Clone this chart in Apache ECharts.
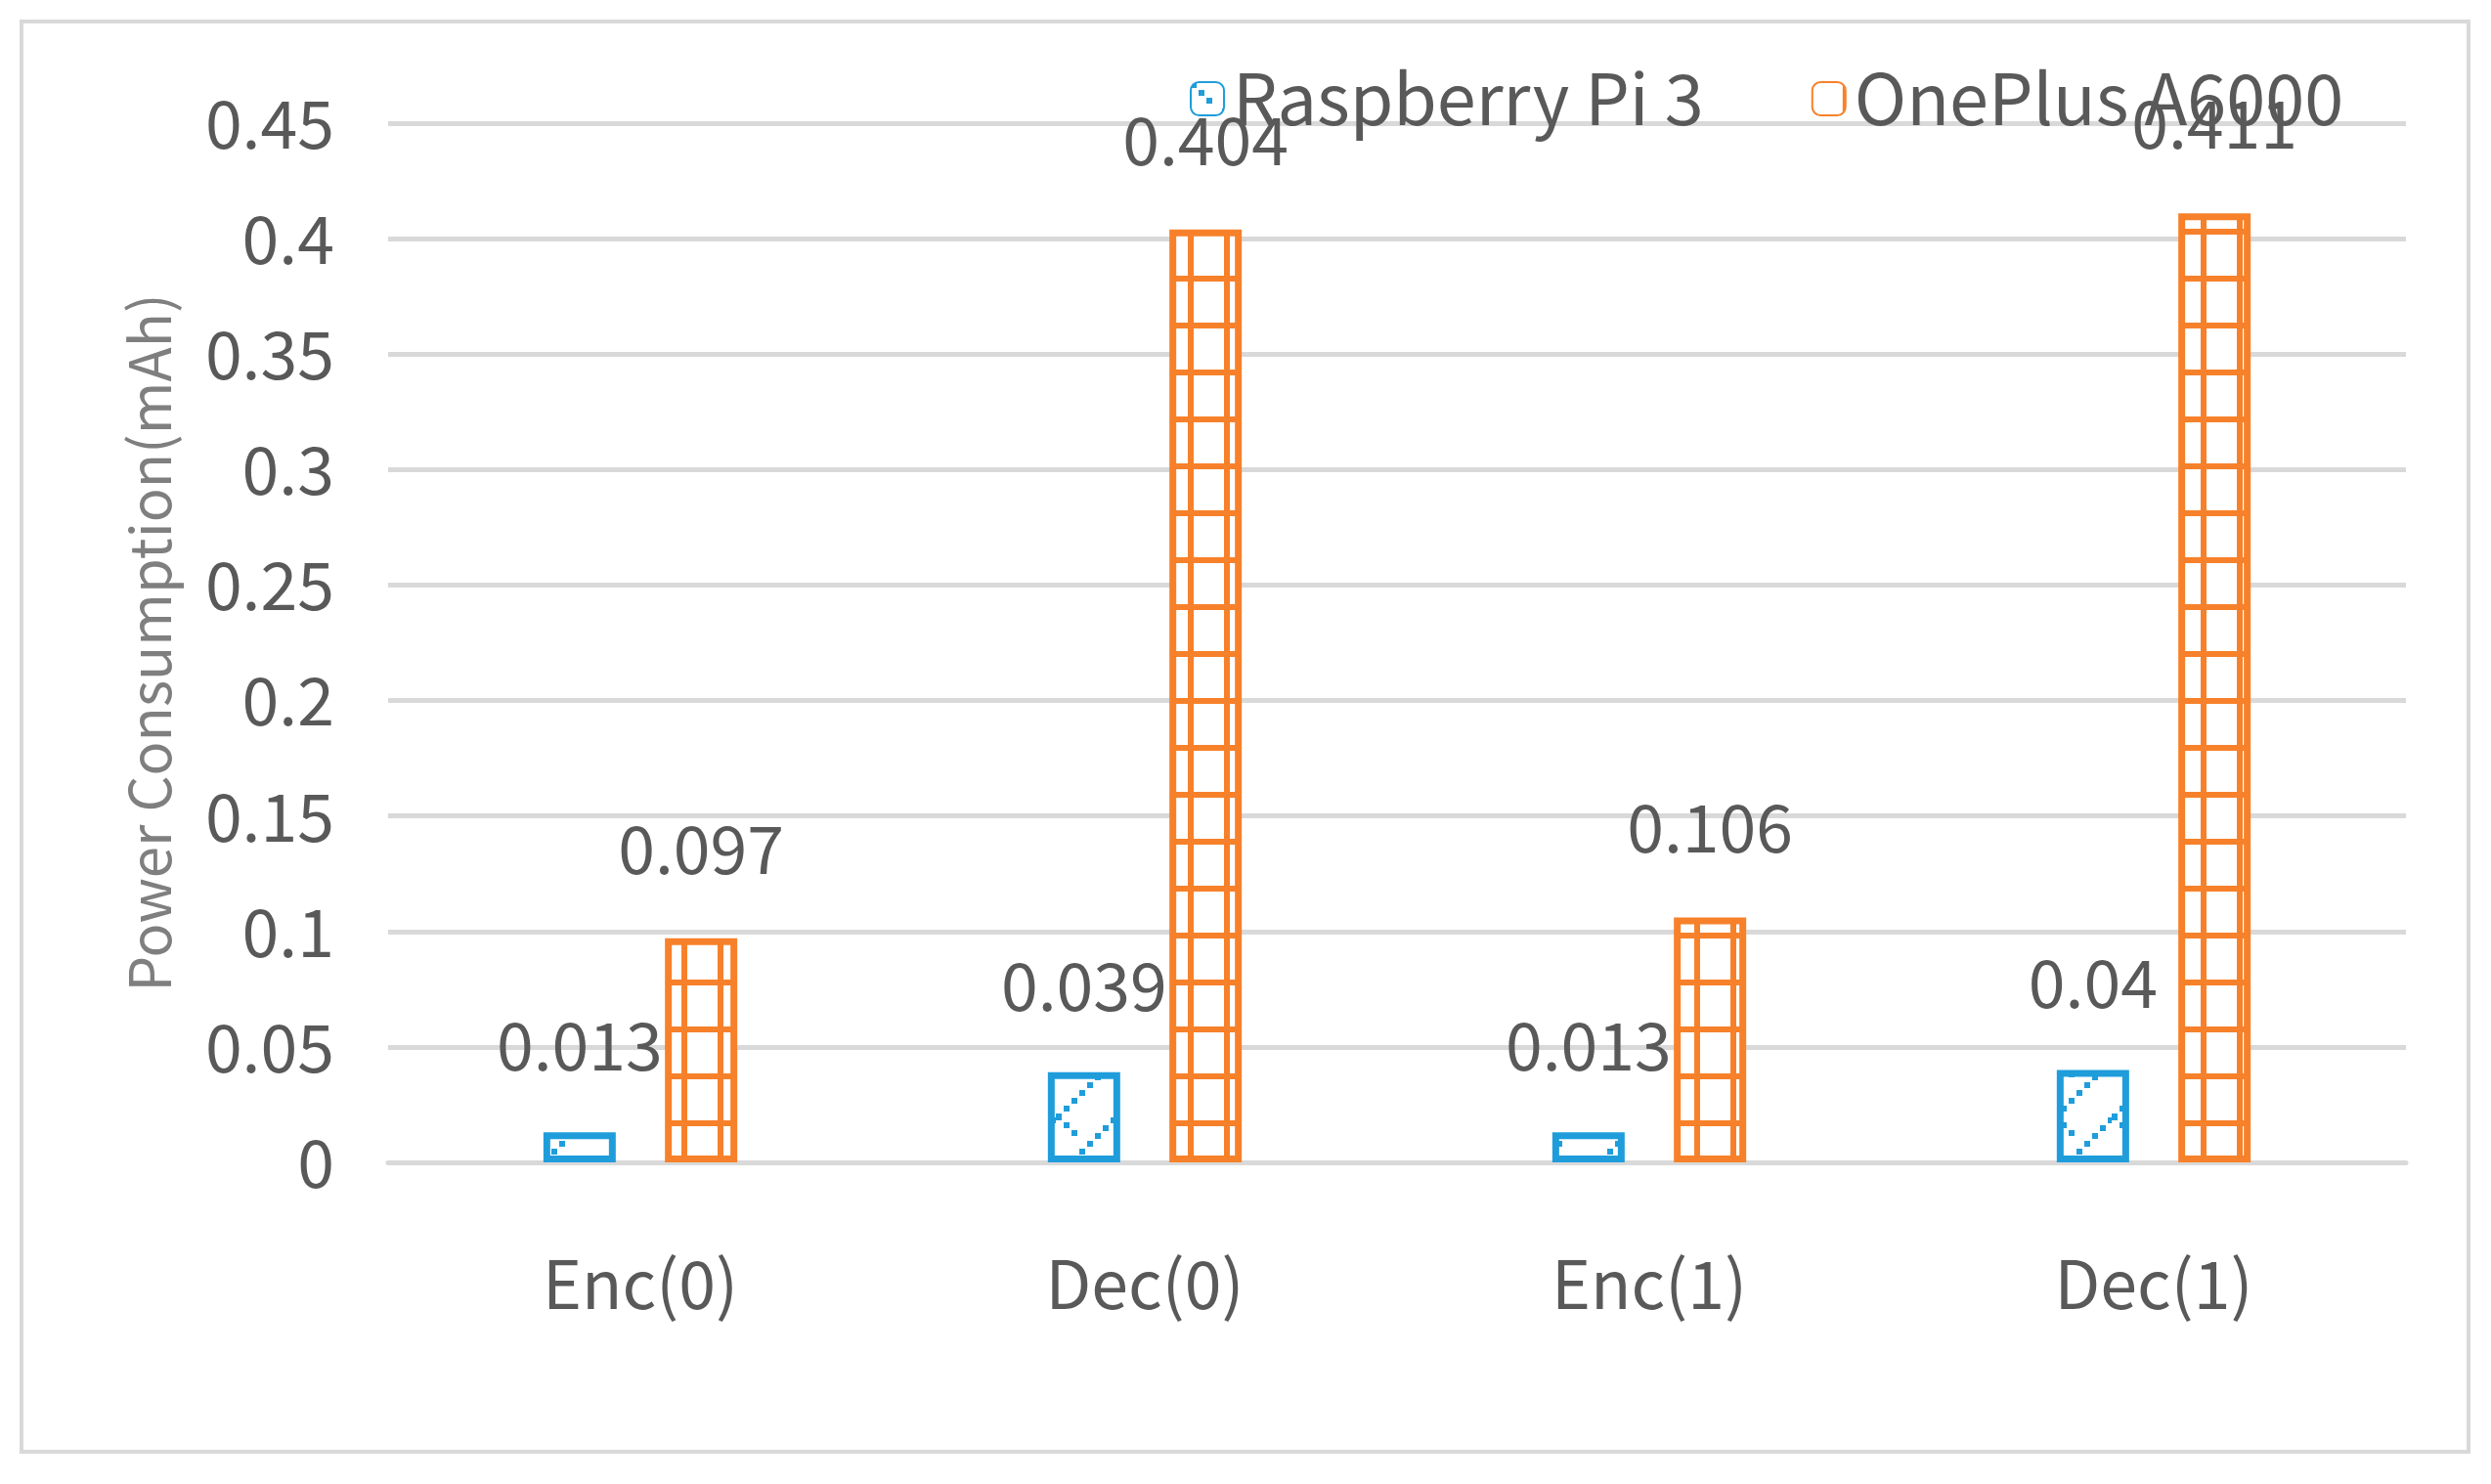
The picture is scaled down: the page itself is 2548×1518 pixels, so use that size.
<!DOCTYPE html>
<html>
<head>
<meta charset="utf-8">
<script src="https://cdn.jsdelivr.net/npm/echarts@6/dist/echarts.min.js"></script>
<style>
  html, body { margin: 0; padding: 0; background: #fff; }
  #chart { width: 2548px; height: 1518px; }
</style>
</head>
<body>
<div id="chart"></div>
<script>
const categories = ["Enc(0)", "Dec(0)", "Enc(1)", "Dec(1)"];
const piValues = [0.013, 0.039, 0.013, 0.04];
const oneplusValues = [0.097, 0.404, 0.106, 0.411];
const yTicks = [0, 0.05, 0.1, 0.15, 0.2, 0.25, 0.3, 0.35, 0.4, 0.45];

const BLUE = "#1f9ddb";
const ORANGE = "#f7812a";
const TEXT = "#595959";
const FONT = "'Noto Sans CJK SC', 'DejaVu Sans', sans-serif";

// hatch patterns
function bluePattern() {
  const c = document.createElement("canvas");
  c.width = 60; c.height = 60;
  const g = c.getContext("2d");
  g.fillStyle = "#fff"; g.fillRect(0, 0, 60, 60);
  g.fillStyle = BLUE;
  for (let i = 0; i < 60; i += 8) {
    g.fillRect(i, 59 - i, 6, 6);
  }
  for (let i = 0; i < 20; i += 8) {
    g.fillRect(i, i, 6, 6);
  }
  return c;
}
function orangePattern() {
  const c = document.createElement("canvas");
  c.width = 37; c.height = 48;
  const g = c.getContext("2d");
  g.fillStyle = "#fff"; g.fillRect(0, 0, 37, 48);
  g.fillStyle = ORANGE;
  g.fillRect(31, 0, 6, 48);
  g.fillRect(0, 42, 37, 6);
  return c;
}

const chart = echarts.init(document.getElementById("chart"));
chart.setOption({
  backgroundColor: "#fff",
  animation: false,
  graphic: [{
    type: "rect",
    shape: { x: 22, y: 22, width: 2503, height: 1463 },
    style: { fill: "none", stroke: "#d9d9d9", lineWidth: 4 }
  }],
  legend: {
    top: 60, left: 1212,
    itemWidth: 34, itemHeight: 34, itemGap: 110,
    textStyle: { fontSize: 72, color: TEXT, fontFamily: FONT, padding: [0, 0, 0, 4] },
    data: ["Raspberry Pi 3", "OnePlus A6000"]
  },
  grid: { left: 397, right: 87, top: 126, bottom: 329 },
  xAxis: {
    type: "category",
    data: categories,
    axisLine: { lineStyle: { color: "#d9d9d9", width: 5 } },
    axisTick: { show: false },
    axisLabel: { fontSize: 68, color: TEXT, fontFamily: FONT, margin: 90 }
  },
  yAxis: {
    type: "value",
    min: 0, max: 0.45, interval: 0.05,
    name: "Power Consumption(mAh)",
    nameLocation: "middle", nameGap: 215, nameRotate: 90,
    nameTextStyle: { fontSize: 58, color: "#7f7f7f", fontFamily: FONT },
    axisLine: { show: false },
    axisTick: { show: false },
    splitLine: { lineStyle: { color: "#d9d9d9", width: 5 } },
    axisLabel: {
      fontSize: 68, color: TEXT, fontFamily: FONT, margin: 55,
      formatter: v => yTicks.includes(+v.toFixed(2)) ? String(+v.toFixed(2)) : ""
    }
  },
  series: [
    {
      name: "Raspberry Pi 3", type: "bar", data: piValues,
      barWidth: 74, barGap: "68%",
      itemStyle: { color: { image: bluePattern(), repeat: "repeat" }, borderColor: BLUE, borderWidth: 7 },
      label: { show: true, position: "top", distance: 55, fontSize: 68, color: TEXT, fontFamily: FONT }
    },
    {
      name: "OnePlus A6000", type: "bar", data: oneplusValues,
      barWidth: 74,
      itemStyle: { color: { image: orangePattern(), repeat: "repeat" }, borderColor: ORANGE, borderWidth: 7 },
      label: { show: true, position: "top", distance: 58, fontSize: 68, color: TEXT, fontFamily: FONT }
    }
  ]
});
</script>
</body>
</html>
